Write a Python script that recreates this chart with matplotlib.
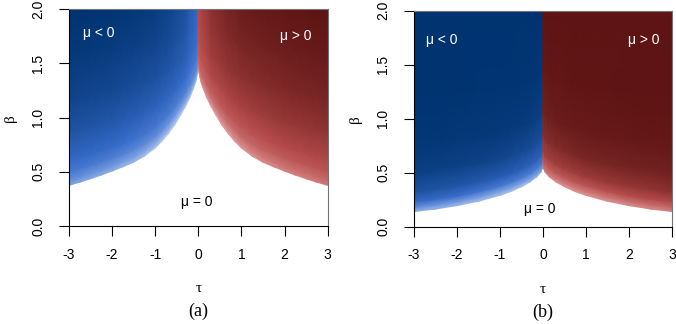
import numpy as np
import matplotlib
matplotlib.use("Agg")
import matplotlib.pyplot as plt
from matplotlib.colors import LinearSegmentedColormap

plt.rcParams["axes.unicode_minus"] = False

# ---- data ----
# lower edge of the mu < 0 region (tau <= 0); mu > 0 side is its mirror image
tau_edge_a = [-3, -2.75, -2.5, -2.25, -2, -1.75, -1.5, -1.25, -1, -0.85,
              -0.7, -0.55, -0.4, -0.3, -0.2, -0.12, -0.06, -0.02, 0]
beta_edge_a = [0.375, 0.404, 0.436, 0.47, 0.507, 0.546, 0.588, 0.645, 0.72,
               0.78, 0.85, 0.93, 1.03, 1.1, 1.18, 1.26, 1.33, 1.41, 1.47]
tau_edge_b = [-3, -2.5, -2, -1.5, -1, -0.75, -0.5, -0.3, -0.15, -0.05, 0]
beta_edge_b = [0.14, 0.163, 0.195, 0.235, 0.29, 0.325, 0.37, 0.415, 0.46,
               0.505, 0.55]

# shade of |mu| (0 light .. 1 dark); rows = fraction of the way from the
# edge up to beta = 2, columns = tau_edge points
frac_a = [0, 0.03, 0.08, 0.15, 0.3, 0.5, 0.75, 1.0]
shade_a = [
    [0.25, 0.24, 0.22, 0.21, 0.2, 0.17, 0.15, 0.12, 0.1, 0.08, 0.07, 0.05,
     0.05, 0.05, 0.05, 0.06, 0.07, 0.08, 0.1],
    [0.35, 0.34, 0.32, 0.31, 0.3, 0.27, 0.25, 0.22, 0.2, 0.18, 0.17, 0.15,
     0.15, 0.15, 0.15, 0.16, 0.17, 0.18, 0.2],
    [0.45, 0.45, 0.44, 0.43, 0.42, 0.4, 0.38, 0.36, 0.35, 0.33, 0.32, 0.3,
     0.29, 0.29, 0.28, 0.28, 0.28, 0.29, 0.3],
    [0.55, 0.55, 0.54, 0.53, 0.52, 0.5, 0.48, 0.46, 0.45, 0.44, 0.43, 0.42,
     0.41, 0.4, 0.38, 0.37, 0.37, 0.36, 0.36],
    [0.72, 0.71, 0.7, 0.69, 0.68, 0.66, 0.64, 0.62, 0.6, 0.58, 0.57, 0.55,
     0.53, 0.52, 0.48, 0.46, 0.45, 0.43, 0.42],
    [0.86, 0.85, 0.84, 0.83, 0.82, 0.8, 0.78, 0.76, 0.74, 0.72, 0.7, 0.67,
     0.64, 0.62, 0.56, 0.53, 0.5, 0.48, 0.46],
    [0.95, 0.95, 0.94, 0.93, 0.92, 0.9, 0.89, 0.87, 0.85, 0.82, 0.8, 0.76,
     0.72, 0.7, 0.62, 0.58, 0.54, 0.5, 0.48],
    [1.0, 1.0, 0.99, 0.99, 0.98, 0.97, 0.96, 0.94, 0.92, 0.89, 0.87, 0.82,
     0.77, 0.74, 0.66, 0.62, 0.57, 0.53, 0.5],
]
frac_b = [0, 0.02, 0.05, 0.1, 0.2, 0.35, 0.6, 1.0]
shade_b = [
    [0.2, 0.18, 0.16, 0.14, 0.12, 0.12, 0.12, 0.14, 0.17, 0.2, 0.25],
    [0.35, 0.32, 0.3, 0.27, 0.25, 0.25, 0.25, 0.27, 0.29, 0.32, 0.35],
    [0.55, 0.52, 0.5, 0.47, 0.45, 0.44, 0.43, 0.43, 0.43, 0.44, 0.45],
    [0.75, 0.72, 0.7, 0.67, 0.65, 0.63, 0.62, 0.61, 0.6, 0.6, 0.6],
    [0.9, 0.89, 0.88, 0.86, 0.85, 0.83, 0.81, 0.79, 0.77, 0.76, 0.75],
    [0.97, 0.97, 0.96, 0.96, 0.95, 0.94, 0.93, 0.92, 0.9, 0.89, 0.88],
    [1.0, 1.0, 1.0, 0.99, 0.99, 0.99, 0.98, 0.98, 0.97, 0.96, 0.96],
    [1.0, 1.0, 1.0, 1.0, 1.0, 1.0, 1.0, 1.0, 1.0, 1.0, 1.0],
]

# label positions (tau, beta)
lab_neg = {"a": (-2.3, 1.78), "b": (-2.35, 1.73)}
lab_pos = {"a": (2.25, 1.75), "b": (2.33, 1.73)}
lab_zero = {"a": (-0.04, 0.22), "b": (-0.07, 0.16)}

blues = LinearSegmentedColormap.from_list(
    "mu_neg", [(0.78, 0.85, 0.97), (0.22, 0.43, 0.80), (0.0, 0.20, 0.44)])
reds = LinearSegmentedColormap.from_list(
    "mu_pos", [(0.90, 0.66, 0.66), (0.72, 0.30, 0.30), (0.37, 0.08, 0.08)])

fig = plt.figure(figsize=(6.76, 3.24), dpi=100)
axes = [fig.add_axes([0.102, 0.3025, 0.3827, 0.6688]),
        fig.add_axes([0.612, 0.3003, 0.3825, 0.6667])]

panels = [
    ("a", tau_edge_a, beta_edge_a, frac_a, shade_a),
    ("b", tau_edge_b, beta_edge_b, frac_b, shade_b),
]

for ax, (name, te, be, fr, sh) in zip(axes, panels):
    te = np.array(te, dtype=float)
    be = np.array(be, dtype=float)
    fr = np.array(fr, dtype=float)
    sh = np.array(sh, dtype=float)
    # curvilinear mesh: from the mu = 0 edge up to the top of the plot
    X = np.tile(te, (len(fr), 1))
    Y = be[None, :] + (2.0 - be[None, :]) * fr[:, None]
    ax.pcolormesh(X, Y, sh, shading="gouraud", cmap=blues, vmin=0, vmax=1)
    ax.pcolormesh(-X[:, ::-1], Y[:, ::-1], sh[:, ::-1], shading="gouraud",
                  cmap=reds, vmin=0, vmax=1)

    ax.set_xlim(-3, 3)
    ax.set_ylim(0, 2)
    ax.set_xticks(range(-3, 4))
    ax.set_yticks([0, 0.5, 1.0, 1.5, 2.0])
    ax.set_yticklabels(["0.0", "0.5", "1.0", "1.5", "2.0"], rotation=90,
                       va="center")
    ax.tick_params(axis="x", length=7, width=0.8, pad=8.5, labelsize=10)
    ax.tick_params(axis="y", length=7, width=0.8, pad=10, labelsize=10)
    for lab in ax.get_xticklabels() + ax.get_yticklabels():
        lab.set_fontfamily("Liberation Sans")
    for s in ("left", "bottom"):
        ax.spines[s].set_color("black")
        ax.spines[s].set_linewidth(0.8)
    for s in ("top", "right"):
        ax.spines[s].set_color("0.45")
        ax.spines[s].set_linewidth(0.8)

    ax.text(*lab_neg[name], "μ < 0", color="white", fontsize=10,
            family="Liberation Sans", ha="center", va="center")
    ax.text(*lab_pos[name], "μ > 0", color="white", fontsize=10,
            family="Liberation Sans", ha="center", va="center")
    ax.text(*lab_zero[name], "μ = 0", color="black", fontsize=10,
            family="Liberation Sans", ha="center", va="center")

    ax.set_xlabel("τ", family="Liberation Serif", fontsize=11, labelpad=15)
    ax.set_ylabel("β", family="Liberation Serif", fontsize=11, labelpad=10)
    ax.text(0.5, -0.395, f"({name})", transform=ax.transAxes, ha="center",
            va="center", family="Liberation Serif", fontsize=13)

fig.savefig("out.png", dpi=100)
